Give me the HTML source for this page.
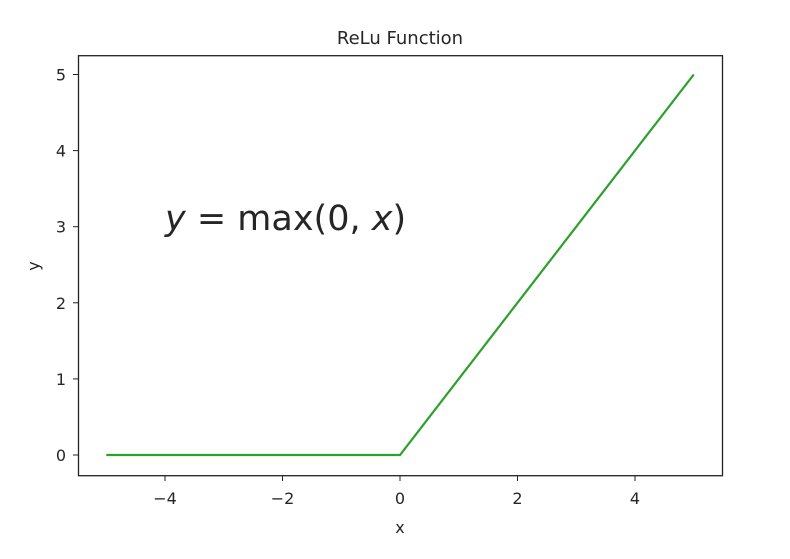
<!DOCTYPE html>
<html><head><meta charset="utf-8"><style>
body{margin:0;background:#fff;width:790px;height:554px;overflow:hidden}
svg text{font-family:"DejaVu Sans","Liberation Sans",sans-serif;fill:#262626}
</style></head><body>
<svg id="chart" width="790" height="554" xmlns="http://www.w3.org/2000/svg">
<text x="400" y="44" text-anchor="middle" font-size="18">ReLu Function</text>
<text x="400" y="533" text-anchor="middle" font-size="16">x</text>
<text x="0" y="0" transform="translate(39,266) rotate(-90)" text-anchor="middle" font-size="16">y</text>
<text x="165" y="230" font-size="35"><tspan font-style="italic">y</tspan> = max(0, <tspan font-style="italic">x</tspan>)</text>
<g id="ticks"></g>
<polyline id="line" fill="none" stroke="#2ca02c" stroke-width="2.2"/>
<rect x="78.5" y="55.7" width="644" height="420" fill="none" stroke="#222" stroke-width="1.3"/>
</svg>
<script>
const xs = [-5, 0, 5];
const ys = [0, 0, 5];
const xTicks = [-4, -2, 0, 2, 4];
const yTicks = [0, 1, 2, 3, 4, 5];
const xTickLabels = ["\u22124", "\u22122", "0", "2", "4"];
const yTickLabels = ["0", "1", "2", "3", "4", "5"];
function sx(v){return 400 + 58.75*v;}
function sy(v){return 455 - 76.1*v;}
const ns="http://www.w3.org/2000/svg";
document.getElementById('line').setAttribute('points', xs.map((x,i)=>sx(x)+','+sy(ys[i])).join(' '));
const g=document.getElementById('ticks');
xTicks.forEach((t,i)=>{
  const l=document.createElementNS(ns,'line');
  
  
  l.setAttribute('x1',sx(t));l.setAttribute('x2',sx(t));l.setAttribute('y1',475.7);l.setAttribute('y2',481);l.setAttribute('stroke','#222');
  g.appendChild(l);
  const tx=document.createElementNS(ns,'text');
  
  
  tx.setAttribute('x',sx(t));tx.setAttribute('y',504);tx.setAttribute('text-anchor','middle');tx.setAttribute('font-size','16');
  tx.textContent=xTickLabels[i];g.appendChild(tx);
});
yTicks.forEach((t,i)=>{
  const l=document.createElementNS(ns,'line');
  
  
  l.setAttribute('x1',73);l.setAttribute('x2',78.5);l.setAttribute('y1',sy(t));l.setAttribute('y2',sy(t));l.setAttribute('stroke','#222');
  g.appendChild(l);
  const tx=document.createElementNS(ns,'text');
  
  
  tx.setAttribute('x',66);tx.setAttribute('y',sy(t)+6);tx.setAttribute('text-anchor','end');tx.setAttribute('font-size','16');
  tx.textContent=yTickLabels[i];g.appendChild(tx);
});
</script>
</body></html>
